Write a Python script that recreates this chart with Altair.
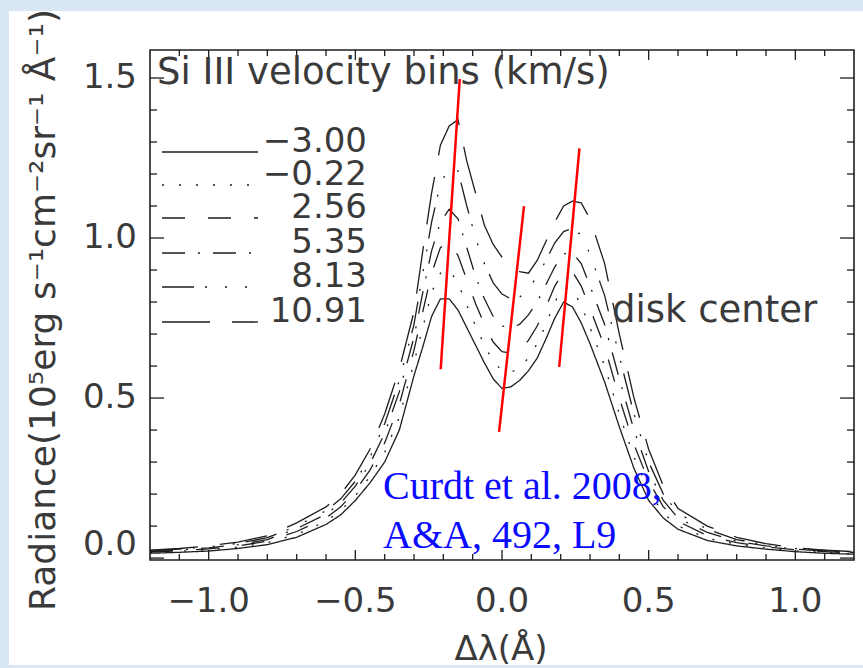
import altair as alt
import pandas as pd

# ---------------- data ----------------
x_grid = [-1.2, -1.1, -1.0, -0.9, -0.8, -0.7, -0.6, -0.55, -0.5, -0.45, -0.4, -0.35, -0.3,
          -0.27, -0.24, -0.21, -0.18, -0.15, -0.12, -0.09, -0.06, -0.03, 0.0, 0.03, 0.06,
          0.09, 0.12, 0.15, 0.18, 0.21, 0.24, 0.27, 0.3, 0.35, 0.4, 0.45, 0.5, 0.55, 0.6,
          0.7, 0.8, 0.9, 1.0, 1.1, 1.2]

bins = ["\u22123.00", "\u22120.22", "2.56", "5.35", "8.13", "10.91"]

rad_m300 = [0.015, 0.018, 0.022, 0.030, 0.042, 0.065, 0.105, 0.135, 0.180, 0.235, 0.300, 0.400, 0.570,
            0.660, 0.755, 0.810, 0.810, 0.775, 0.720, 0.665, 0.610, 0.560, 0.530, 0.535, 0.555,
            0.585, 0.625, 0.685, 0.750, 0.800, 0.785, 0.735, 0.670, 0.550, 0.410, 0.280, 0.180, 0.125, 0.090,
            0.055, 0.038, 0.028, 0.020, 0.015, 0.012]
rad_m022 = [0.017, 0.021, 0.026, 0.034, 0.048, 0.074, 0.115, 0.148, 0.195, 0.255, 0.330, 0.440, 0.610,
            0.720, 0.830, 0.890, 0.900, 0.860, 0.790, 0.725, 0.665, 0.615, 0.585, 0.580, 0.595,
            0.625, 0.670, 0.730, 0.800, 0.845, 0.840, 0.790, 0.720, 0.600, 0.450, 0.315, 0.210, 0.140, 0.100,
            0.062, 0.043, 0.031, 0.023, 0.018, 0.014]
rad_p256 = [0.019, 0.023, 0.029, 0.038, 0.053, 0.083, 0.125, 0.160, 0.210, 0.275, 0.360, 0.480, 0.650,
            0.770, 0.890, 0.970, 0.990, 0.945, 0.870, 0.795, 0.730, 0.675, 0.645, 0.640, 0.650,
            0.680, 0.725, 0.785, 0.850, 0.895, 0.895, 0.850, 0.780, 0.660, 0.500, 0.355, 0.240, 0.160, 0.115,
            0.070, 0.048, 0.035, 0.026, 0.020, 0.016]
rad_p535 = [0.021, 0.025, 0.032, 0.042, 0.058, 0.092, 0.137, 0.172, 0.225, 0.295, 0.390, 0.520, 0.690,
            0.830, 0.960, 1.050, 1.090, 1.060, 0.970, 0.880, 0.810, 0.755, 0.725, 0.720, 0.730,
            0.760, 0.800, 0.855, 0.910, 0.950, 0.955, 0.920, 0.850, 0.730, 0.560, 0.400, 0.270, 0.180, 0.125,
            0.080, 0.053, 0.038, 0.028, 0.022, 0.017]
rad_p813 = [0.023, 0.028, 0.035, 0.046, 0.064, 0.100, 0.148, 0.185, 0.240, 0.315, 0.420, 0.555, 0.730,
            0.890, 1.050, 1.170, 1.220, 1.210, 1.100, 1.000, 0.920, 0.860, 0.825, 0.810, 0.815,
            0.840, 0.880, 0.930, 0.985, 1.020, 1.030, 1.010, 0.950, 0.820, 0.630, 0.450, 0.300, 0.200, 0.140,
            0.090, 0.058, 0.041, 0.030, 0.024, 0.018]
rad_p1091 = [0.025, 0.030, 0.038, 0.050, 0.070, 0.110, 0.160, 0.200, 0.260, 0.340, 0.450, 0.590, 0.770,
             0.960, 1.140, 1.290, 1.350, 1.370, 1.240, 1.140, 1.040, 0.980, 0.940, 0.915, 0.895,
             0.890, 0.930, 0.990, 1.050, 1.100, 1.115, 1.110, 1.060, 0.920, 0.700, 0.500, 0.340, 0.225, 0.155,
             0.100, 0.065, 0.045, 0.032, 0.025, 0.020]

series = [rad_m300, rad_m022, rad_p256, rad_p535, rad_p813, rad_p1091]

# red guide lines (peak / dip tracks)
red_x1 = [-0.209, -0.010, 0.195]
red_y1 = [0.59, 0.394, 0.597]
red_x2 = [-0.144, 0.075, 0.264]
red_y2 = [1.497, 1.10, 1.28]

x_major = [-1.0, -0.5, 0.0, 0.5, 1.0]
x_minor = [-1.1, -0.9, -0.8, -0.7, -0.6, -0.4, -0.3, -0.2, -0.1,
           0.1, 0.2, 0.3, 0.4, 0.6, 0.7, 0.8, 0.9, 1.1]
y_major = [0.5, 1.0, 1.5]
y_zero = [0.0]
y_minor = [0.1, 0.2, 0.3, 0.4, 0.6, 0.7, 0.8, 0.9, 1.1, 1.2, 1.3, 1.4]

# ---------------- build ----------------
rows = []
for lab, vals in zip(bins, series):
    for xv, yv in zip(x_grid, vals):
        rows.append({"dl": xv, "rad": yv, "bin": lab})
df = pd.DataFrame(rows)
df_red = pd.DataFrame({"x": red_x1, "y": red_y1, "x2": red_x2, "y2": red_y2})
one = pd.DataFrame({"k": [0]})

W, H = 704, 510
FONT = "DejaVu Sans"
INK = "#1e1e1e"
TXT = "#3a3a3a"
dashes = [[1, 0], [2, 15], [23, 23], [23, 13, 2, 13], [32, 11, 2, 18, 2, 18, 2, 11], [48, 22]]

xs = alt.Scale(domain=[-1.2, 1.2], nice=False, zero=False)
ys = alt.Scale(domain=[-0.006, 1.5875], nice=False, zero=False)

panel = alt.Chart(one).mark_rect(color="white").encode(
    x=alt.value(-141), x2=alt.value(713), y=alt.value(-39), y2=alt.value(615))

frame = alt.Chart(one).mark_rect(fillOpacity=0, stroke=INK, strokeWidth=1.6).encode(
    x=alt.value(0), x2=alt.value(W), y=alt.value(0), y2=alt.value(H))

lines = alt.Chart(df).mark_line(color=INK, strokeWidth=1.3).encode(
    x=alt.X("dl:Q", scale=xs, axis=None),
    y=alt.Y("rad:Q", scale=ys, axis=None),
    strokeDash=alt.StrokeDash("bin:N", scale=alt.Scale(domain=bins, range=dashes), legend=None),
)

red = alt.Chart(df_red).mark_rule(color="#ff0000", strokeWidth=2.5).encode(
    x=alt.X("x:Q", scale=xs, axis=None), y=alt.Y("y:Q", scale=ys, axis=None),
    x2="x2:Q", y2="y2:Q")

def xticks(vals, length):
    d = pd.DataFrame({"v": vals})
    bot = alt.Chart(d).mark_rule(color=INK, strokeWidth=1.3).encode(
        x=alt.X("v:Q", scale=xs, axis=None), y=alt.value(H), y2=alt.value(H - length))
    top = alt.Chart(d).mark_rule(color=INK, strokeWidth=1.3).encode(
        x=alt.X("v:Q", scale=xs, axis=None), y=alt.value(0), y2=alt.value(length))
    return [bot, top]

def yticks(vals, length):
    d = pd.DataFrame({"v": vals})
    lef = alt.Chart(d).mark_rule(color=INK, strokeWidth=1.3).encode(
        y=alt.Y("v:Q", scale=ys, axis=None), x=alt.value(0), x2=alt.value(length))
    rig = alt.Chart(d).mark_rule(color=INK, strokeWidth=1.3).encode(
        y=alt.Y("v:Q", scale=ys, axis=None), x=alt.value(W), x2=alt.value(W - length))
    return [lef, rig]

ticks = (xticks(x_major, 10) + xticks(x_minor, 6) + yticks(y_major + y_zero, 14)
         + yticks(y_minor, 7))

# tick labels
xlab = alt.Chart(pd.DataFrame({"v": x_major})).mark_text(
    font=FONT, fontSize=34, color=TXT, align="center", baseline="middle").encode(
    x=alt.X("v:Q", scale=xs, axis=None), y=alt.value(H + 42),
    text=alt.Text("v:Q", format=".1f"))
ylab = alt.Chart(pd.DataFrame({"v": y_major})).mark_text(
    font=FONT, fontSize=34, color=TXT, align="right", baseline="middle").encode(
    y=alt.Y("v:Q", scale=ys, axis=None), x=alt.value(-13),
    text=alt.Text("v:Q", format=".1f"))
ylab0 = alt.Chart(pd.DataFrame({"v": y_zero})).mark_text(
    font=FONT, fontSize=34, color=TXT, align="right", baseline="bottom", dy=4).encode(
    y=alt.Y("v:Q", scale=ys, axis=None), x=alt.value(-13),
    text=alt.Text("v:Q", format=".1f"))

def txt(s, x, y, size, **kw):
    props = dict(font=FONT, fontSize=size, color=TXT, align="left", baseline="alphabetic")
    props.update(kw)
    return alt.Chart(one).mark_text(**props).encode(
        x=alt.value(x), y=alt.value(y), text=alt.value(s))

texts = [
    txt("Si III velocity bins (km/s)", 7, 34, 37),
    txt("disk center", 462, 272, 37),
    txt("\u0394\u03bb(\u00c5)", 351, 610, 34, align="center"),
    txt("Radiance(10\u2075erg s\u207b\u00b9cm\u207b\u00b2sr\u207b\u00b9 \u00c5\u207b\u00b9)", -106, 260, 36,
        align="center", baseline="middle", angle=270),
    txt("Curdt et al. 2008,", 233, 449, 40, font="Liberation Serif", color="#0a0aff"),
    txt("A&A, 492, L9", 233, 498, 40, font="Liberation Serif", color="#0a0aff"),
]

leg_y = [102, 135, 168, 203, 237, 272]
legend = []
for lab, dash, yy in zip(bins, dashes, leg_y):
    legend.append(alt.Chart(one).mark_rule(color=INK, strokeWidth=1.3, strokeDash=dash).encode(
        x=alt.value(12), x2=alt.value(108), y=alt.value(yy), y2=alt.value(yy)))
    legend.append(txt(lab, 217, yy, 34, align="right"))

chart = alt.layer(panel, lines, red, frame, *ticks, xlab, ylab, ylab0, *legend, *texts).properties(
    width=W, height=H,
    background="#d9e7f5",
    padding={"left": 150, "top": 50, "right": 9, "bottom": 108},
    autosize=alt.AutoSizeParams(type="none"),
).configure_view(stroke=None)

chart.save("out.html", embed_options={"renderer": "svg", "actions": False})
